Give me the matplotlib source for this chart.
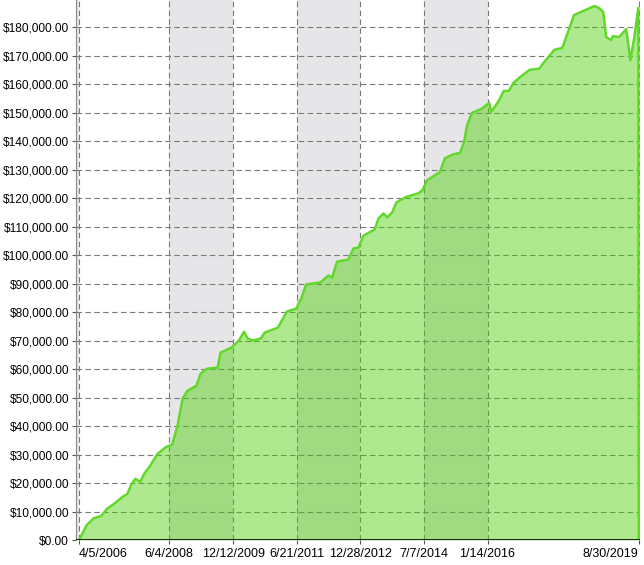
import matplotlib
matplotlib.use("Agg")
import matplotlib.pyplot as plt
from matplotlib.ticker import FuncFormatter

plt.rcParams['font.family'] = ['Liberation Sans', 'DejaVu Sans']

# decimal years and equity (thousands of $)
years = [2006.26, 2006.45, 2006.62, 2006.79, 2006.93, 2007.10, 2007.30, 2007.42, 2007.51, 2007.61,
         2007.73, 2007.82, 2007.95, 2008.14, 2008.35, 2008.49, 2008.62, 2008.74, 2008.86, 2009.07,
         2009.17, 2009.32, 2009.58, 2009.65, 2009.91, 2010.09, 2010.21, 2010.30, 2010.42, 2010.61,
         2010.71, 2011.02, 2011.24, 2011.46, 2011.58, 2011.70, 2012.04, 2012.23, 2012.32, 2012.44,
         2012.71, 2012.83, 2012.95, 2013.07, 2013.34, 2013.43, 2013.55, 2013.64, 2013.76, 2013.86,
         2014.08, 2014.39, 2014.48, 2014.60, 2014.90, 2015.02, 2015.23, 2015.38, 2015.48, 2015.55,
         2015.67, 2015.90, 2016.08, 2016.13, 2016.32, 2016.43, 2016.55, 2016.66, 2016.85, 2017.05,
         2017.28, 2017.40, 2017.64, 2017.83, 2017.95, 2018.11, 2018.60, 2018.71, 2018.81, 2018.88,
         2019.00, 2019.04, 2019.19, 2019.36, 2019.46, 2019.55, 2019.65, 2019.66]
equity_k = [0, 5.3, 7.7, 8.4, 10.9, 12.7, 15.1, 16.2, 19.3, 21.5,
            20.4, 23.2, 25.7, 30.2, 32.7, 33.4, 40.1, 49.6, 52.4, 54.1,
            58.3, 60.1, 60.5, 65.8, 67.5, 70.0, 73.1, 70.7, 70.0, 70.7,
            72.8, 74.5, 80.2, 81.2, 84.7, 89.7, 90.4, 92.8, 92.1, 97.7,
            98.4, 102.3, 102.6, 106.8, 109.0, 112.8, 114.6, 113.2, 115.0, 118.5,
            120.3, 121.7, 122.7, 126.3, 129.1, 134.0, 135.4, 135.8, 139.7, 145.6,
            149.9, 151.3, 153.4, 150.2, 154.4, 157.6, 157.6, 160.4, 162.8, 165.0,
            165.4, 167.8, 172.0, 172.7, 177.6, 184.2, 187.4, 186.7, 185.3, 176.5,
            175.4, 176.8, 176.5, 179.3, 168.4, 176.1, 186.7, 0]
equity = [v * 1000 for v in equity_k]

tick_years = [2006.26, 2008.42, 2009.95, 2011.47, 2012.99, 2014.51, 2016.04, 2019.66]
tick_labels = ["4/5/2006", "6/4/2008", "12/12/2009", "6/21/2011", "12/28/2012",
               "7/7/2014", "1/14/2016", "8/30/2019"]
y_ticks = list(range(0, 180001, 10000))

fig = plt.figure(figsize=(6.44, 5.65), dpi=100)
ax = fig.add_axes([76 / 644, 25 / 565, 564 / 644, 540 / 565])
xmin, xmax = 2006.19, 2019.69
ax.set_xlim(xmin, xmax)
ax.set_ylim(0, 189500)

# alternating shaded bands
band_edges = [xmin] + tick_years
for i in range(0, len(band_edges) - 1, 2):
    ax.axvspan(band_edges[i], band_edges[i + 1], color='#e6e6e9', zorder=0, lw=0)

ax.fill_between(years, equity, 0, color=(71 / 255, 207 / 255, 0), alpha=0.44, lw=0, zorder=2)
ax.plot(years, equity, color='#62d92a', lw=1.8, zorder=3)

for y in y_ticks[1:]:
    ax.axhline(y, color='#7a7a7a', lw=0.8, ls=(0, (5, 3)), zorder=1)
for x in tick_years:
    ax.axvline(x, color='#7a7a7a', lw=0.8, ls=(0, (5, 3)), zorder=1)
ax.axhline(0, color='black', lw=1.2, zorder=4)

ax.set_xticks(tick_years)
ax.set_xticklabels(tick_labels)
ax.set_yticks(y_ticks)
ax.yaxis.set_major_formatter(FuncFormatter(lambda v, p: "${:,.2f}".format(v)))
ax.tick_params(length=3, color='#555555')
ax.tick_params(axis='x', labelsize=9, pad=3)
ax.tick_params(axis='y', labelsize=8.6, pad=2)
xlabels = ax.get_xticklabels()
xlabels[0].set_ha('left')
xlabels[-1].set_ha('right')
for s in ['top', 'right', 'bottom']:
    ax.spines[s].set_visible(False)
ax.spines['left'].set_color('#888888')

fig.savefig("out.png", dpi=100)
